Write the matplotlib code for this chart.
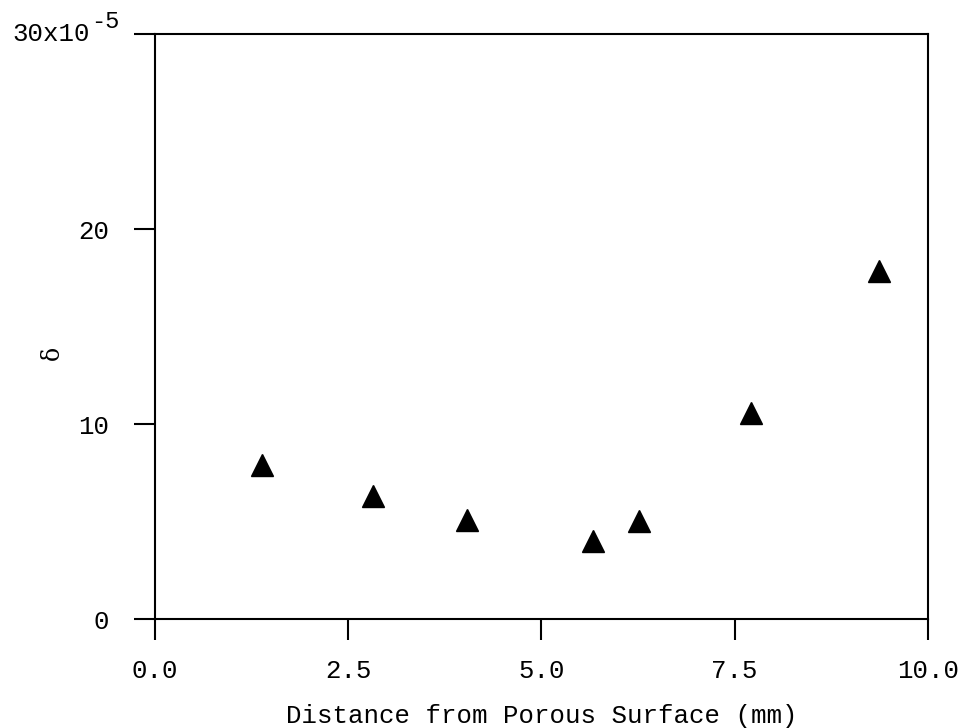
import matplotlib
matplotlib.use("Agg")
import matplotlib.pyplot as plt

# distance from porous surface (mm) and delta (x1e-5)
distance = [1.39, 2.82, 4.04, 5.67, 6.26, 7.71, 9.37]
delta = [7.92, 6.31, 5.07, 4.02, 5.02, 10.58, 17.84]

xticks = [0.0, 2.5, 5.0, 7.5, 10.0]
xtick_labels = ["0.0", "2.5", "5.0", "7.5", "10.0"]
yticks = [0, 10, 20, 30]
ytick_labels = ["0", "10", "20", ""]


def main():
    plt.rcParams["font.family"] = ["Liberation Mono", "DejaVu Sans Mono"]

    fig = plt.figure(figsize=(9.71, 7.28), dpi=100)
    ax = fig.add_axes([0.1596, 0.1497, 0.7961, 0.8036])

    ax.plot(distance, delta, linestyle="none", marker="^", color="black",
            markersize=16)

    ax.set_xlim(0, 10)
    ax.set_ylim(0, 30)
    ax.set_xticks(xticks)
    ax.set_xticklabels(xtick_labels)
    ax.set_yticks(yticks)
    ax.set_yticklabels(ytick_labels)

    for s in ax.spines.values():
        s.set_linewidth(1.5)
    ax.tick_params(direction="out", length=15, width=1.5, labelsize=18.5,
                   pad=14)
    ax.tick_params(axis="y", pad=18)

    # top y label with a full-size exponent, as in the typed original
    ax.annotate("30x10", xy=(0, 30), xycoords=("axes fraction", "data"),
                xytext=(-47, 0), textcoords="offset points",
                ha="right", va="center", fontsize=18.5, annotation_clip=False)
    ax.annotate("-5", xy=(0, 30), xycoords=("axes fraction", "data"),
                xytext=(-46, 9), textcoords="offset points",
                ha="left", va="center", fontsize=17, annotation_clip=False)

    ax.set_xlabel("Distance from Porous Surface (mm)", fontsize=18.5,
                  labelpad=15)
    ax.set_ylabel("δ", fontsize=17, family="DejaVu Serif")
    ax.yaxis.set_label_coords(-0.118, 0.455)

    fig.savefig("out.png", dpi=100)


if __name__ == "__main__":
    main()
